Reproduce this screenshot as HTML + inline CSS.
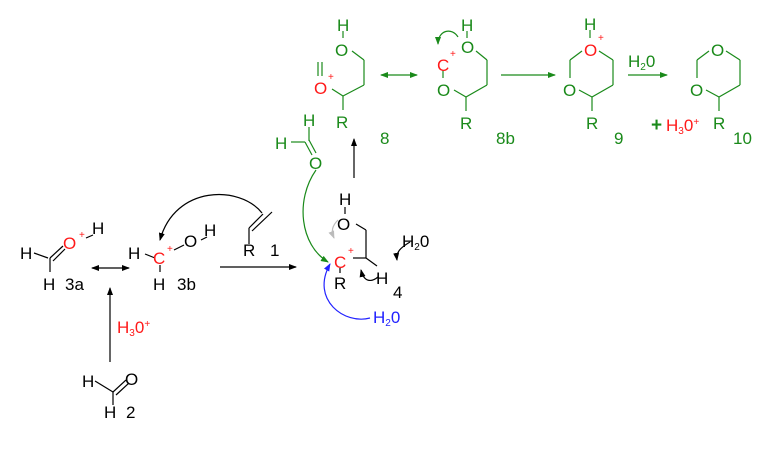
<!DOCTYPE html>
<html><head><meta charset="utf-8"><style>
html,body{margin:0;padding:0;background:#fff;width:782px;height:458px;overflow:hidden}
svg{display:block}
text{font-family:"Liberation Sans",sans-serif;font-size:17px}
.g{fill:#1a8a1a}.r{fill:#ff1a1a}.k{fill:#000}.b{fill:#2222ff}
.s{font-size:10px}
</style></head><body>
<svg width="782" height="458" viewBox="0 0 782 458" xmlns="http://www.w3.org/2000/svg">
<defs>
<marker id="ak" markerWidth="8" markerHeight="6" refX="7" refY="3" orient="auto" markerUnits="userSpaceOnUse"><path d="M0,0L8,3L0,6z" fill="#000"/></marker>
<marker id="ag" markerWidth="8" markerHeight="6" refX="7" refY="3" orient="auto" markerUnits="userSpaceOnUse"><path d="M0,0L8,3L0,6z" fill="#1a8a1a"/></marker>
<marker id="ab" markerWidth="8" markerHeight="6" refX="7" refY="3" orient="auto" markerUnits="userSpaceOnUse"><path d="M0,0L8,3L0,6z" fill="#2222ff"/></marker>
<marker id="ay" markerWidth="8" markerHeight="6" refX="7" refY="3" orient="auto" markerUnits="userSpaceOnUse"><path d="M0,0L8,3L0,6z" fill="#bbb"/></marker>
<marker id="aks" markerWidth="8" markerHeight="6" refX="1" refY="3" orient="auto" markerUnits="userSpaceOnUse"><path d="M8,0L0,3L8,6z" fill="#000"/></marker>
<marker id="ags" markerWidth="8" markerHeight="6" refX="1" refY="3" orient="auto" markerUnits="userSpaceOnUse"><path d="M8,0L0,3L8,6z" fill="#1a8a1a"/></marker>
</defs>
<g stroke="#000" stroke-width="1.2" fill="none">
<line x1="34" y1="253" x2="48" y2="258"/>
<line x1="50" y1="258" x2="50" y2="272"/>
<line x1="50" y1="258" x2="63" y2="246"/><line x1="53" y1="261" x2="65" y2="249"/>
<line x1="86" y1="238" x2="93" y2="235"/>
<line x1="145" y1="254" x2="155" y2="258"/>
<line x1="160" y1="265" x2="160" y2="272"/>
<line x1="174" y1="250" x2="184" y2="245"/>
<line x1="201" y1="240" x2="207" y2="237"/>
<line x1="95" y1="381" x2="113" y2="392"/>
<line x1="113" y1="392" x2="113" y2="405"/>
<line x1="113" y1="392" x2="126" y2="380"/><line x1="116" y1="395" x2="129" y2="383"/>
<line x1="249" y1="228" x2="249" y2="244"/>
<line x1="249" y1="228" x2="263" y2="214"/><line x1="252" y1="231" x2="272" y2="212"/>
<line x1="345" y1="207" x2="345" y2="214"/>
<line x1="356" y1="224" x2="366" y2="230"/>
<line x1="366" y1="230" x2="366" y2="258"/>
<line x1="353" y1="258" x2="366" y2="258"/>
<line x1="366" y1="258" x2="377" y2="266"/>
<line x1="340" y1="268" x2="340" y2="273"/>
</g>
<g stroke="#000" stroke-width="1.2" fill="none">
<line x1="92" y1="268" x2="129" y2="268" marker-start="url(#aks)" marker-end="url(#ak)"/>
<line x1="110" y1="362" x2="110" y2="288" marker-end="url(#ak)"/>
<line x1="220" y1="267" x2="296" y2="267" marker-end="url(#ak)"/>
<line x1="354" y1="178" x2="354" y2="139" marker-end="url(#ak)"/>
<path d="M262,213 C240,185 175,185 160,240" marker-end="url(#ak)"/>
<path d="M410,242 C400,248 396,252 397,260" marker-end="url(#ak)"/>
<path d="M378,277 C372,282 364,283 361,270" marker-end="url(#ak)"/>
</g>
<path d="M338,220 C332,226 331,231 334,238" stroke="#bbb" stroke-width="1.2" fill="none" marker-end="url(#ay)"/>
<path d="M316,170 C295,200 300,245 328,262" stroke="#1a8a1a" stroke-width="1.2" fill="none" marker-end="url(#ag)"/>
<path d="M370,318 C345,325 310,300 330,264" stroke="#2222ff" stroke-width="1.2" fill="none" marker-end="url(#ab)"/>
<g stroke="#1a8a1a" stroke-width="1.2" fill="none">
<line x1="291" y1="142" x2="305" y2="142"/>
<line x1="309" y1="127" x2="309" y2="141"/>
<line x1="305" y1="142" x2="312" y2="155"/><line x1="309" y1="140" x2="316" y2="153"/>
<line x1="343" y1="31" x2="343" y2="38"/>
<line x1="352" y1="51" x2="364" y2="60"/>
<line x1="364" y1="60" x2="364" y2="85"/>
<line x1="364" y1="85" x2="343" y2="96"/>
<line x1="343" y1="96" x2="332" y2="89"/>
<line x1="343" y1="96" x2="343" y2="110"/>
<line x1="318" y1="62" x2="318" y2="76"/><line x1="322" y1="62" x2="322" y2="76"/>
<line x1="467" y1="31" x2="467" y2="38"/>
<line x1="476" y1="51" x2="487" y2="60"/>
<line x1="487" y1="60" x2="487" y2="85"/>
<line x1="487" y1="85" x2="466" y2="97"/>
<line x1="466" y1="97" x2="454" y2="90"/>
<line x1="466" y1="97" x2="466" y2="111"/>
<line x1="443" y1="70" x2="443" y2="78"/>
<line x1="590" y1="30" x2="590" y2="38"/>
<line x1="599" y1="51" x2="613" y2="60"/>
<line x1="613" y1="60" x2="613" y2="85"/>
<line x1="613" y1="85" x2="592" y2="97"/>
<line x1="592" y1="97" x2="579" y2="90"/>
<line x1="592" y1="97" x2="592" y2="111"/>
<line x1="582" y1="51" x2="570" y2="60"/>
<line x1="570" y1="60" x2="570" y2="78"/>
<line x1="726" y1="51" x2="740" y2="60"/>
<line x1="740" y1="60" x2="740" y2="85"/>
<line x1="740" y1="85" x2="719" y2="97"/>
<line x1="719" y1="97" x2="706" y2="90"/>
<line x1="719" y1="97" x2="719" y2="111"/>
<line x1="709" y1="51" x2="697" y2="60"/>
<line x1="697" y1="60" x2="697" y2="78"/>
<line x1="381" y1="75" x2="417" y2="75" marker-start="url(#ags)" marker-end="url(#ag)"/>
<line x1="501" y1="75" x2="555" y2="75" marker-end="url(#ag)"/>
<line x1="628" y1="75" x2="667" y2="75" marker-end="url(#ag)"/>
<path d="M458,37 C452,27 438,30 438,44" marker-end="url(#ag)"/>
</g>
<g class="k">
<text x="20" y="259">H</text><text x="92" y="234">H</text>
<text x="43" y="290">H</text><text x="65" y="290">3a</text>
<text x="128" y="259">H</text><text x="184" y="247">O</text><text x="204" y="236">H</text>
<text x="153" y="290">H</text><text x="177" y="290">3b</text>
<text x="82" y="387">H</text><text x="125" y="385">O</text>
<text x="104" y="418">H</text><text x="126" y="418">2</text>
<text x="243" y="256">R</text><text x="270" y="256">1</text>
<text x="339" y="205">H</text><text x="337" y="230">O</text>
<text x="334" y="289">R</text><text x="376" y="284">H</text><text x="393" y="298">4</text>
<text x="402" y="247">H<tspan class="s" dy="3">2</tspan><tspan dy="-3">0</tspan></text>
</g>
<g class="r">
<text x="63" y="249">O</text><text class="s" x="79" y="238">+</text>
<text x="153" y="264">C</text><text class="s" x="167" y="252">+</text>
<text x="334" y="268">C</text><text class="s" x="348" y="254">+</text>
<text x="117" y="333">H<tspan class="s" dy="3">3</tspan><tspan dy="-3">0</tspan><tspan class="s" dy="-6">+</tspan></text>
</g>
<text class="b" x="373" y="323">H<tspan class="s" dy="3">2</tspan><tspan dy="-3">0</tspan></text>
<g class="g">
<text x="303" y="126">H</text><text x="275" y="149">H</text><text x="309" y="169">O</text>
<text x="337" y="31">H</text><text x="335" y="56">O</text>
<text x="336" y="128">R</text><text x="380" y="144">8</text>
<text x="461" y="31">H</text><text x="461" y="53">O</text>
<text x="437" y="96">O</text>
<text x="460" y="129">R</text><text x="496" y="144">8b</text>
<text x="584" y="30">H</text>
<text x="563" y="96">O</text>
<text x="586" y="129">R</text><text x="614" y="144">9</text>
<text x="628" y="67">H<tspan class="s" dy="3">2</tspan><tspan dy="-3">0</tspan></text>
<text x="651" y="131" style="font-weight:bold;font-size:19px">+</text>
<text x="711" y="56">O</text><text x="690" y="96">O</text>
<text x="713" y="129">R</text><text x="733" y="144">10</text>
</g>
<g class="r">
<text x="314" y="94">O</text><text class="s" x="328" y="80">+</text>
<text x="437" y="71">C</text><text class="s" x="450" y="57">+</text>
<text x="584" y="56">O</text><text class="s" x="598" y="41">+</text>
<text x="666" y="131">H<tspan class="s" dy="3">3</tspan><tspan dy="-3">0</tspan><tspan class="s" dy="-6">+</tspan></text>
</g>
</svg>
</body></html>
